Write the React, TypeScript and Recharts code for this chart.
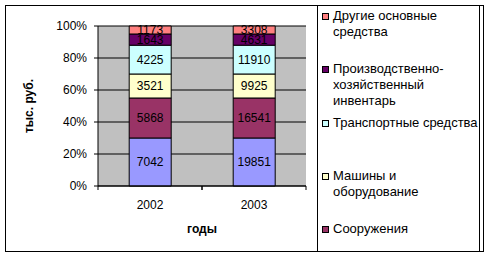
import React from "react"
import { Bar, BarChart, CartesianGrid, LabelList, Label, XAxis, YAxis } from "recharts"

const years = ["2002", "2003"]
const zdaniya = [7042, 19851]
const sooruzheniya = [5868, 16541]
const mashiny = [3521, 9925]
const transport = [4225, 11910]
const inventar = [1643, 4631]
const drugie = [1173, 3308]
const yTicks = [0, 0.2, 0.4, 0.6, 0.8, 1]

const SERIES = [
  { key: "Здания", values: zdaniya, color: "#9999FF", legend: false },
  { key: "Сооружения", values: sooruzheniya, color: "#993366", legend: true },
  { key: "Машины и\nоборудование", values: mashiny, color: "#FFFFCC", legend: true },
  { key: "Транспортные средства", values: transport, color: "#CCFFFF", legend: true },
  { key: "Производственно-\nхозяйственный\nинвентарь", values: inventar, color: "#660066", legend: true },
  { key: "Другие основные\nсредства", values: drugie, color: "#FF8080", legend: true },
]

const data = years.map((year, i) => {
  const row: Record<string, any> = { year }
  SERIES.forEach((s) => {
    row[s.key] = s.values[i]
  })
  return row
})

const FONT = "'Liberation Sans', Arial, sans-serif"

// легенда справа, последний пункт (Здания) в оригинале обрезан рамкой
const LegendBox = () => {
  const items = SERIES.filter((s) => s.legend).reverse()
  return (
    <div
      style={{
        position: "absolute",
        left: 317,
        top: 6,
        width: 163,
        height: 245,
        borderLeft: "1px solid #000",
        borderRight: "1px solid #000",
        boxSizing: "border-box",
        overflow: "hidden",
        paddingTop: 2,
        fontFamily: FONT,
        fontSize: 13,
        color: "#000",
      }}
    >
      {items.map((s) => (
        <div key={s.key} style={{ height: 53.3, display: "flex", alignItems: "flex-start", paddingLeft: 4 }}>
          <div
            style={{
              width: 7,
              height: 7,
              marginTop: 5,
              background: s.color,
              border: "1px solid #000",
              boxSizing: "border-box",
              flexShrink: 0,
            }}
          />
          <div style={{ marginLeft: 4, whiteSpace: "pre-line", lineHeight: "16px" }}>{s.key}</div>
        </div>
      ))}
    </div>
  )
}

// подпись года + засечки на границах категорий, как в Excel
const YearTick = ({ x, y, payload, width, visibleTicksCount }: any) => {
  const half = width / visibleTicksCount / 2
  return (
    <g>
      <line x1={x - half} x2={x - half} y1={y} y2={y + 4} stroke="#000" />
      <line x1={x + half} x2={x + half} y1={y} y2={y + 4} stroke="#000" />
      <text x={x} y={y + 23} textAnchor="middle" fontFamily={FONT} fontSize={12} fill="#000">
        {payload.value}
      </text>
    </g>
  )
}

export default function App() {
  return (
    <div style={{ position: "absolute", left: 0, top: 0, width: 490, height: 257, background: "#fff" }}>
      <BarChart
        width={490}
        height={257}
        data={data}
        stackOffset="expand"
        barCategoryGap="30%"
        margin={{ top: 26, right: 184, left: 0, bottom: 0 }}
        style={{ position: "absolute", left: 0, top: 0 }}
      >
        <CartesianGrid vertical={false} stroke="#000" fill="#C0C0C0" fillOpacity={1} />
        <XAxis
          dataKey="year"
          height={71}
          axisLine={{ stroke: "#000" }}
          tickLine={false}
          tickSize={0}
          tickMargin={0}
          tick={<YearTick />}
        >
          <Label
            content={({ viewBox }: any) => (
              <text
                x={viewBox.x + viewBox.width / 2}
                y={233}
                textAnchor="middle"
                fontFamily={FONT}
                fontSize={12}
                fontWeight="bold"
                fill="#000"
              >
                годы
              </text>
            )}
          />
        </XAxis>
        <YAxis
          width={98}
          domain={[0, 1]}
          ticks={yTicks}
          tickFormatter={(v) => `${Math.round(v * 100)}%`}
          axisLine={{ stroke: "#000" }}
          tickLine={{ stroke: "#000" }}
          tickSize={4}
          tickMargin={7}
          tick={{ fill: "#000", fontSize: 12, fontFamily: FONT }}
        >
          <Label
            content={({ viewBox }: any) => (
              <text
                x={33}
                y={viewBox.y + viewBox.height / 2}
                transform={`rotate(-90 33 ${viewBox.y + viewBox.height / 2})`}
                textAnchor="middle"
                fontFamily={FONT}
                fontSize={12}
                fontWeight="bold"
                fill="#000"
              >
                тыс. руб.
              </text>
            )}
          />
        </YAxis>
        {SERIES.map((s) => (
          <Bar
            key={s.key}
            dataKey={s.key}
            stackId="a"
            fill={s.color}
            stroke="#000"
            strokeWidth={1}
            isAnimationActive={false}
          >
            <LabelList dataKey={s.key} position="center" fill="#000" fontSize={12} fontFamily={FONT} />
          </Bar>
        ))}
      </BarChart>
      <LegendBox />
      <div
        style={{
          position: "absolute",
          left: 5,
          top: 5,
          width: 479,
          height: 247,
          border: "1px solid #000",
          boxSizing: "border-box",
          pointerEvents: "none",
        }}
      />
    </div>
  )
}
